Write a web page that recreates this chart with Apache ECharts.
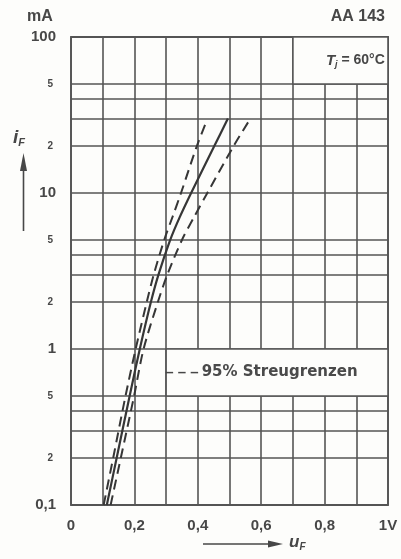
<!DOCTYPE html>
<html>
<head>
<meta charset="utf-8">
<script src="https://cdn.jsdelivr.net/npm/echarts@6/dist/echarts.min.js"></script>
<style>
html,body{margin:0;padding:0;background:#fdfdfb;}
#chart{width:401px;height:559px;}
</style>
</head>
<body>
<div id="chart"></div>
<script>
// ---- data (u_F in V, i_F in mA) ----
var typU  = [0.113, 0.144, 0.185, 0.217, 0.252, 0.276, 0.313, 0.343, 0.379, 0.452, 0.495];
var typI  = [0.1,   0.2,   0.5,   1,     2,     3,     5,     7,     10,    20,    30];
var lowU  = [0.103, 0.133, 0.172, 0.204, 0.239, 0.261, 0.294, 0.320, 0.347, 0.397, 0.428];
var lowI  = [0.1,   0.2,   0.5,   1,     2,     3,     5,     7,     10,    20,    29];
var highU = [0.125, 0.157, 0.199, 0.229, 0.274, 0.304, 0.350, 0.388, 0.430, 0.513, 0.566];
var highI = [0.1,   0.2,   0.5,   1,     2,     3,     5,     7,     10,    20,    30];

var xTickValues = [0, 0.2, 0.4, 0.6, 0.8, 1.0];
var xTickLabels = ['0', '0,2', '0,4', '0,6', '0,8', '1V'];
var yTickValues = [0.1, 1, 10, 100];
var yTickLabels = ['0,1', '1', '10', '100'];
var yMinorValues = [0.2, 0.3, 0.4, 0.5, 2, 3, 4, 5, 20, 30, 40, 50];
var yMinorLabels = ['2', '', '', '5', '2', '', '', '5', '2', '', '', '5'];

function pairs(u, i) { return u.map(function (v, k) { return [v, i[k]]; }); }

var INK = '#474747';
var GRID = '#555555';
var CURVE = '#363636';
var FONT = '"Liberation Sans", Arial, sans-serif';
var WIDEFONT = '"DejaVu Sans", sans-serif';

var chart = echarts.init(document.getElementById('chart'), null, {renderer: 'canvas'});

var option = {
  backgroundColor: '#fdfdfb',
  animation: false,
  grid: {left: 71, right: 13, top: 37, bottom: 54, show: true, borderColor: GRID, borderWidth: 1.8, backgroundColor: 'transparent'},
  xAxis: {
    type: 'value', min: 0, max: 1, interval: 0.1,
    axisLine: {show: false}, axisTick: {show: false},
    splitLine: {show: true, lineStyle: {color: GRID, width: 1.6}},
    axisLabel: {
      margin: 13, color: INK, fontFamily: FONT, fontWeight: 'bold', fontSize: 15,
      formatter: function (v) {
        for (var k = 0; k < xTickValues.length; k++) {
          if (Math.abs(v - xTickValues[k]) < 1e-6) return xTickLabels[k];
        }
        return '';
      }
    }
  },
  yAxis: {
    type: 'log', logBase: 10, min: 0.1, max: 100,
    axisLine: {show: false}, axisTick: {show: false},
    splitLine: {show: true, lineStyle: {color: GRID, width: 1.6}},
    axisLabel: {
      margin: 15, color: INK, fontFamily: FONT, fontWeight: 'bold', fontSize: 15,
      formatter: function (v) {
        for (var k = 0; k < yTickValues.length; k++) {
          if (Math.abs(Math.log10(v) - Math.log10(yTickValues[k])) < 1e-6) return yTickLabels[k];
        }
        return '';
      }
    }
  },
  series: [
    {
      name: 'gridhelper', type: 'line', data: [], silent: true,
      markLine: {
        z: 1, silent: true, symbol: 'none', animation: false,
        lineStyle: {color: GRID, width: 1.6, type: 'solid'},
        label: {show: true, position: 'start', distance: 18, color: INK, fontFamily: FONT, fontWeight: 'bold', fontSize: 10,
          formatter: function (p) { return p.name; }},
        emphasis: {disabled: true},
        data: yMinorValues.map(function (v, k) { return {yAxis: v, name: yMinorLabels[k]}; })
      }
    },
    {
      name: 'boxes', type: 'line', data: [], silent: true,
      markArea: {
        z: 3, silent: true,
        itemStyle: {color: '#fdfdfb', borderColor: GRID, borderWidth: 1.6},
        emphasis: {disabled: true},
        data: [
          [{xAxis: 0.7, yAxis: 50, label: {show: true, position: 'insideRight', distance: 4,
              formatter: '{ti|T}{sub|j}{t| = 60°C}',
              rich: {
                ti: {fontFamily: FONT, fontStyle: 'italic', fontWeight: 'bold', fontSize: 15, color: INK},
                sub: {fontFamily: FONT, fontStyle: 'italic', fontWeight: 'bold', fontSize: 9, color: INK, verticalAlign: 'bottom', padding: [8, 0, 0, 0]},
                t: {fontFamily: FONT, fontWeight: 'bold', fontSize: 14, color: INK}
              }}},
           {xAxis: 1, yAxis: 100}],
          [{xAxis: 0.3, yAxis: 0.5, label: {show: true, position: 'insideLeft', distance: 0,
              formatter: '{d|– – –}{t|95% Streugrenzen}',
              rich: {
                d: {fontFamily: FONT, fontWeight: 'bold', fontSize: 15, color: INK},
                t: {fontFamily: WIDEFONT, fontWeight: 'bold', fontSize: 15, color: '#4a4a4a', padding: [0, 0, 0, 3]}
              }}},
           {xAxis: 1, yAxis: 1}]
        ]
      }
    },
    {
      name: 'typ', type: 'line', z: 10, smooth: 0.3, showSymbol: false, silent: true,
      lineStyle: {color: CURVE, width: 2.2, type: 'solid'},
      data: pairs(typU, typI)
    },
    {
      name: 'low', type: 'line', z: 10, smooth: 0.3, showSymbol: false, silent: true,
      lineStyle: {color: CURVE, width: 2, type: [10, 6]},
      data: pairs(lowU, lowI)
    },
    {
      name: 'high', type: 'line', z: 10, smooth: 0.3, showSymbol: false, silent: true,
      lineStyle: {color: CURVE, width: 2, type: [10, 6]},
      data: pairs(highU, highI)
    }
  ],
  graphic: [
    {type: 'text', left: 27, top: 9, style: {text: 'mA', font: 'bold 16px ' + FONT, fill: INK}},
    {type: 'text', right: 16, top: 9, style: {text: 'AA 143', font: 'bold 16px ' + FONT, fill: INK}},
    {type: 'text', left: 13, top: 128, style: {
      text: '{i|i}{f|F}',
      rich: {
        i: {font: 'italic bold 19px ' + FONT, fill: INK},
        f: {font: 'italic bold 11px ' + FONT, fill: INK, verticalAlign: 'bottom', padding: [10, 0, 0, 0]}
      }}},
    {type: 'line', shape: {x1: 23.5, y1: 231, x2: 23.5, y2: 166}, style: {stroke: INK, lineWidth: 1.6}},
    {type: 'polygon', shape: {points: [[20, 171], [27, 171], [23.5, 153]]}, style: {fill: INK}},
    {type: 'line', shape: {x1: 203, y1: 544, x2: 272, y2: 544}, style: {stroke: INK, lineWidth: 1.6}},
    {type: 'polygon', shape: {points: [[268, 540.5], [268, 547.5], [283, 544]]}, style: {fill: INK}},
    {type: 'text', left: 289, top: 534, style: {
      text: '{u|u}{f|F}',
      rich: {
        u: {font: 'italic bold 17px ' + FONT, fill: INK},
        f: {font: 'italic bold 10px ' + FONT, fill: INK, verticalAlign: 'bottom', padding: [9, 0, 0, 0]}
      }}}
  ]
};
chart.setOption(option);
</script>
</body>
</html>
